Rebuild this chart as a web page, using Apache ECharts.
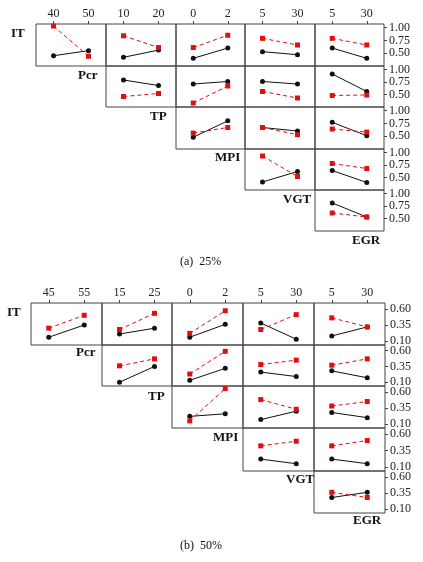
<!DOCTYPE html>
<html>
<head>
<meta charset="utf-8">
<script src="https://cdn.jsdelivr.net/npm/echarts@6/dist/echarts.min.js"></script>
<style>html,body{margin:0;padding:0;background:#fff}#chart{width:423px;height:562px}</style>
</head>
<body>
<div id="chart"></div>
<script>
// Factor names and level labels
const factors = ['IT', 'Pcr', 'TP', 'MPI', 'VGT', 'EGR'];
const levelsA = [['40', '50'], ['10', '20'], ['0', '2'], ['5', '30'], ['5', '30']];
const levelsB = [['45', '55'], ['15', '25'], ['0', '2'], ['5', '30'], ['5', '30']];
const ticksA = [0.5, 0.75, 1.0];
const ticksB = [0.1, 0.35, 0.6];

// (a) 25%: [row][col] -> [low, high] for black (solid) and red (dashed)
const blackA = [
  [[0.45, 0.55], [0.42, 0.56], [0.40, 0.60], [0.53, 0.47], [0.60, 0.40]],
  [null, [0.79, 0.68], [0.71, 0.76], [0.76, 0.71], [0.91, 0.56]],
  [null, null, [0.48, 0.80], [0.67, 0.60], [0.77, 0.51]],
  [null, null, null, [0.41, 0.62], [0.64, 0.40]],
  [null, null, null, null, [0.81, 0.53]]
];
const redA = [
  [[1.03, 0.44], [0.84, 0.61], [0.61, 0.85], [0.79, 0.66], [0.79, 0.66]],
  [null, [0.46, 0.52], [0.33, 0.67], [0.56, 0.43], [0.48, 0.49]],
  [null, null, [0.56, 0.67], [0.67, 0.53], [0.64, 0.58]],
  [null, null, null, [0.93, 0.52], [0.78, 0.68]],
  [null, null, null, null, [0.61, 0.53]]
];
// (b) 50%
const blackB = [
  [[0.16, 0.35], [0.21, 0.30], [0.16, 0.36], [0.38, 0.13], [0.18, 0.32]],
  [null, [0.10, 0.35], [0.13, 0.32], [0.26, 0.19], [0.28, 0.17]],
  [null, null, [0.22, 0.26], [0.17, 0.30], [0.28, 0.20]],
  [null, null, null, [0.22, 0.15], [0.22, 0.15]],
  [null, null, null, null, [0.28, 0.36]]
];
const redB = [
  [[0.30, 0.50], [0.28, 0.53], [0.22, 0.57], [0.28, 0.51], [0.46, 0.32]],
  [null, [0.36, 0.47], [0.23, 0.59], [0.38, 0.45], [0.37, 0.47]],
  [null, null, [0.15, 0.65], [0.48, 0.33], [0.38, 0.45]],
  [null, null, null, [0.42, 0.49], [0.42, 0.50]],
  [null, null, null, null, [0.36, 0.28]]
];

const serif = '"Liberation Serif", "DejaVu Serif", serif';
const grids = [], xAxes = [], yAxes = [], series = [], graphics = [];

function addPanel(cols, rows, levels, black, red, yMin, yMax, ticks, labelPos) {
  for (let i = 0; i < 5; i++) {
    for (let j = i; j < 5; j++) {
      const gi = grids.length;
      grids.push({
        left: cols[j], top: rows[i],
        width: cols[j + 1] - cols[j], height: rows[i + 1] - rows[i],
        show: true, borderColor: '#444', borderWidth: 1, backgroundColor: 'transparent'
      });
      xAxes.push({
        type: 'category', gridIndex: gi, data: levels[j], boundaryGap: true,
        position: 'top',
        axisLine: { show: false },
        axisTick: { show: i === 0, inside: false, length: 3, alignWithLabel: true, lineStyle: { color: '#444' } },
        axisLabel: { show: i === 0, color: '#222', fontFamily: serif, fontSize: 12, margin: 4 }
      });
      yAxes.push({
        type: 'value', gridIndex: gi, min: yMin, max: yMax, position: 'right',
        splitLine: { show: false },
        axisLine: { show: false },
        axisTick: { show: j === 4, length: 3, customValues: ticks, lineStyle: { color: '#444' } },
        axisLabel: {
          show: j === 4, customValues: ticks, color: '#222', fontFamily: serif, fontSize: 12, margin: 5,
          formatter: (v) => v.toFixed(2)
        }
      });
      series.push({
        type: 'line', xAxisIndex: gi, yAxisIndex: gi, data: black[i][j],
        symbol: 'circle', symbolSize: 5, itemStyle: { color: '#111' },
        lineStyle: { color: '#111', width: 1 }, animation: false
      });
      series.push({
        type: 'line', xAxisIndex: gi, yAxisIndex: gi, data: red[i][j],
        symbol: 'rect', symbolSize: 5, itemStyle: { color: '#e01010' },
        lineStyle: { color: '#e01010', width: 1, type: [4, 3] }, animation: false
      });
    }
  }
  // factor names along the diagonal
  labelPos.forEach((p, k) => {
    graphics.push({
      type: 'text', left: p[0], top: p[1],
      style: { text: factors[k], font: 'bold 13px ' + serif, fill: '#111', textAlign: p[2] }
    });
  });
}

addPanel([36, 106, 176, 245, 315, 384], [24, 66, 107, 149, 190, 231],
  levelsA, blackA, redA, 0.25, 1.07, ticksA,
  [[11, 27, 'left'], [78, 69, 'left'], [150, 110, 'left'], [215, 151, 'left'], [283, 193, 'left'], [352, 234, 'left']]);
addPanel([31, 102, 172, 243, 314, 385], [303, 345, 386, 428, 471, 513],
  levelsB, blackB, redB, 0.04, 0.69, ticksB,
  [[7, 306, 'left'], [76, 346, 'left'], [148, 390, 'left'], [213, 431, 'left'], [286, 473, 'left'], [353, 514, 'left']]);

graphics.push({ type: 'text', left: 180, top: 256, style: { text: '(a)  25%', font: '12px ' + serif, fill: '#111' } });
graphics.push({ type: 'text', left: 180, top: 540, style: { text: '(b)  50%', font: '12px ' + serif, fill: '#111' } });

const chart = echarts.init(document.getElementById('chart'));
chart.setOption({
  backgroundColor: '#fff',
  grid: grids, xAxis: xAxes, yAxis: yAxes, series: series, graphic: graphics
});
</script>
</body>
</html>
